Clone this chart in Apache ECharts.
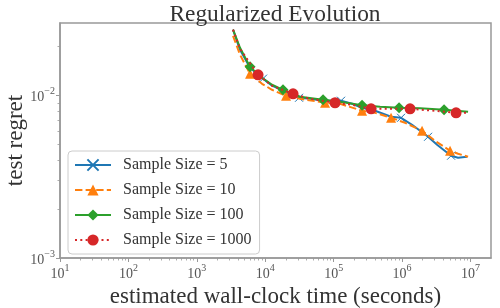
<!DOCTYPE html>
<html><head><meta charset="utf-8">
<script src="https://cdn.jsdelivr.net/npm/echarts@6/dist/echarts.min.js"></script>
<style>html,body{margin:0;padding:0;background:#fff}#c{width:500px;height:308px}</style>
</head><body><div id="c"></div>
<script>
const chartTitle = 'Regularized Evolution';
const xName = 'estimated wall-clock time (seconds)';
const yName = 'test regret';
const seriesNames = ['Sample Size = 5', 'Sample Size = 10', 'Sample Size = 100', 'Sample Size = 1000'];

const time5 = [3382, 4281, 5995, 9286, 12570, 18200, 31200, 45190, 69980, 128300, 185800, 260200, 403000, 690600, 967000, 1400000, 2400000, 3249000, 5206000, 6588000, 8920000];
const regret5 = [0.0254, 0.0191, 0.0148, 0.0127, 0.0115, 0.0107, 0.00968, 0.00954, 0.00928, 0.00928, 0.00889, 0.0084, 0.00805, 0.0074, 0.00729, 0.0066, 0.00557, 0.00497, 0.00426, 0.00414, 0.0042];
const marks5 = [3, 6, 9, 14, 16, 18];

const time10 = [3382, 4281, 5995, 8980, 12570, 20140, 32280, 74860, 124100, 260200, 403000, 690600, 1106000, 1961000, 3038000, 5034000, 6588000, 9224000];
const regret10 = [0.0233, 0.0178, 0.0136, 0.0118, 0.01084, 0.00996, 0.00954, 0.00902, 0.00889, 0.00805, 0.00782, 0.00729, 0.00679, 0.00607, 0.00526, 0.00457, 0.00438, 0.0042];
const marks10 = [2, 5, 7, 9, 11, 13, 15];

const time100 = [3382, 4281, 5995, 8980, 12570, 18200, 32280, 69980, 124100, 260200, 476900, 903800, 1834000, 4111000, 9224000];
const regret100 = [0.0254, 0.01966, 0.0150, 0.01285, 0.01164, 0.01084, 0.00982, 0.00941, 0.00915, 0.0087, 0.00852, 0.0084, 0.00834, 0.00817, 0.00794];
const marks100 = [2, 5, 7, 9, 11, 13];

const time1000 = [3382, 4281, 7847, 12570, 25490, 45190, 104800, 185800, 352400, 667600, 1309000, 3038000, 6160000, 9224000];
const regret1000 = [0.0254, 0.01938, 0.01341, 0.01147, 0.01024, 0.00954, 0.00902, 0.00877, 0.00828, 0.00828, 0.00828, 0.00805, 0.00782, 0.00782];
const marks1000 = [2, 4, 6, 8, 10, 12];

const xMajorTicks = [1e1, 1e2, 1e3, 1e4, 1e5, 1e6, 1e7];
const yMajorTicks = [1e-3, 1e-2];

const X_MIN = 10, X_MAX = Math.pow(10, 7.3);
const Y_MIN = 1e-3, Y_MAX = Math.pow(10, -1.554);

function minorTicks(lo, hi) {
  const out = [];
  for (let e = Math.floor(Math.log10(lo)); e <= Math.ceil(Math.log10(hi)); e++) {
    for (let k = 2; k <= 9; k++) {
      const v = k * Math.pow(10, e);
      if (v > lo && v < hi) out.push(v);
    }
  }
  return out;
}

const FONT = 'Liberation Serif';
const colors = ['#1f77b4', '#ff7f0e', '#2ca02c', '#d62728'];

function buildData(t, r, marks) {
  return t.map((x, i) => marks.indexOf(i) >= 0 ? { value: [x, r[i]] } : { value: [x, r[i]], symbol: 'none' });
}

function powLabel(v) {
  const e = Math.round(Math.log10(v));
  return '{b|10}{s|' + (e < 0 ? '\u2212' + (-e) : e) + '}';
}
const labelRich = {
  b: { fontFamily: FONT, fontSize: 14, color: '#555', verticalAlign: 'bottom', lineHeight: 18 },
  s: { fontFamily: FONT, fontSize: 10, color: '#555', verticalAlign: 'top', lineHeight: 10 }
};

const chart = echarts.init(document.getElementById('c'), null, { renderer: 'canvas' });
const option = {
  animation: false,
  backgroundColor: '#fff',
  title: {
    text: chartTitle, left: 270, top: -2, textAlign: 'center',
    textStyle: { fontFamily: FONT, fontSize: 23.4, fontWeight: 'normal', color: '#333' }
  },
  grid: { left: 60, right: 9, top: 23, bottom: 50, outerBoundsMode: 'none', containLabel: false, show: true, borderColor: '#999', borderWidth: 1.5, backgroundColor: 'transparent' },
  legend: {
    left: 68, top: 151, orient: 'vertical',
    itemWidth: 36, itemHeight: 14, itemGap: 9,
    padding: [6, 8, 6, 6],
    backgroundColor: '#fff', borderColor: '#ccc', borderWidth: 1, borderRadius: 4,
    textStyle: { fontFamily: FONT, fontSize: 16, color: '#333', padding: [0, 0, 0, 7] },
    data: seriesNames
  },
  xAxis: [{
    type: 'log', logBase: 10, min: X_MIN, max: X_MAX, position: 'bottom',
    name: xName, nameLocation: 'middle', nameGap: 27,
    nameTextStyle: { fontFamily: FONT, fontSize: 23, color: '#333' },
    axisLine: { show: true, lineStyle: { color: '#999', width: 1.5 } },
    axisTick: { show: true, inside: false, length: 4, lineStyle: { color: '#999', width: 1 }, customValues: xMajorTicks },
    axisLabel: { show: true, margin: 5, customValues: xMajorTicks, formatter: powLabel, rich: labelRich },
    splitLine: { show: false }
  }, {
    type: 'log', logBase: 10, min: X_MIN, max: X_MAX, position: 'bottom', gridIndex: 0,
    axisLine: { show: false },
    axisTick: { show: true, inside: false, length: 2.5, lineStyle: { color: '#999', width: 0.8 }, customValues: minorTicks(X_MIN, X_MAX) },
    axisLabel: { show: false },
    splitLine: { show: false }
  }],
  yAxis: [{
    type: 'log', logBase: 10, min: Y_MIN, max: Y_MAX, position: 'left',
    name: yName, nameLocation: 'middle', nameGap: 33, nameRotate: 90, nameMoveOverlap: false,
    nameTextStyle: { fontFamily: FONT, fontSize: 23, color: '#333' },
    axisLine: { show: true, lineStyle: { color: '#999', width: 1.5 } },
    axisTick: { show: true, inside: false, length: 4, lineStyle: { color: '#999', width: 1 }, customValues: yMajorTicks },
    axisLabel: { show: true, margin: 5, customValues: yMajorTicks, formatter: powLabel, rich: labelRich },
    splitLine: { show: false }
  }, {
    type: 'log', logBase: 10, min: Y_MIN, max: Y_MAX, position: 'left', gridIndex: 0,
    axisLine: { show: false },
    axisTick: { show: true, inside: false, length: 2.5, lineStyle: { color: '#999', width: 0.8 }, customValues: minorTicks(Y_MIN, Y_MAX) },
    axisLabel: { show: false },
    splitLine: { show: false }
  }],
  series: [
    {
      name: seriesNames[0], type: 'line', data: buildData(time5, regret5, marks5),
      symbol: 'path://M0,0L10,10M10,0L0,10', symbolSize: 8, showAllSymbol: true,
      lineStyle: { color: colors[0], width: 2 },
      itemStyle: { color: colors[0], borderColor: colors[0], borderWidth: 1 },
      z: 2
    },
    {
      name: seriesNames[1], type: 'line', data: buildData(time10, regret10, marks10),
      symbol: 'triangle', symbolSize: 10, showAllSymbol: true,
      lineStyle: { color: colors[1], width: 2, type: [7.4, 3.2] },
      itemStyle: { color: colors[1], borderWidth: 0 },
      z: 3
    },
    {
      name: seriesNames[2], type: 'line', data: buildData(time100, regret100, marks100),
      symbol: 'diamond', symbolSize: 11, showAllSymbol: true,
      lineStyle: { color: colors[2], width: 2 },
      itemStyle: { color: colors[2], borderWidth: 0 },
      z: 4
    },
    {
      name: seriesNames[3], type: 'line', data: buildData(time1000, regret1000, marks1000),
      symbol: 'circle', symbolSize: 11, showAllSymbol: true,
      lineStyle: { color: colors[3], width: 2, type: [2, 3.3] },
      itemStyle: { color: colors[3], borderWidth: 0 },
      z: 5
    }
  ]
};
chart.setOption(option);
</script>
</body></html>
